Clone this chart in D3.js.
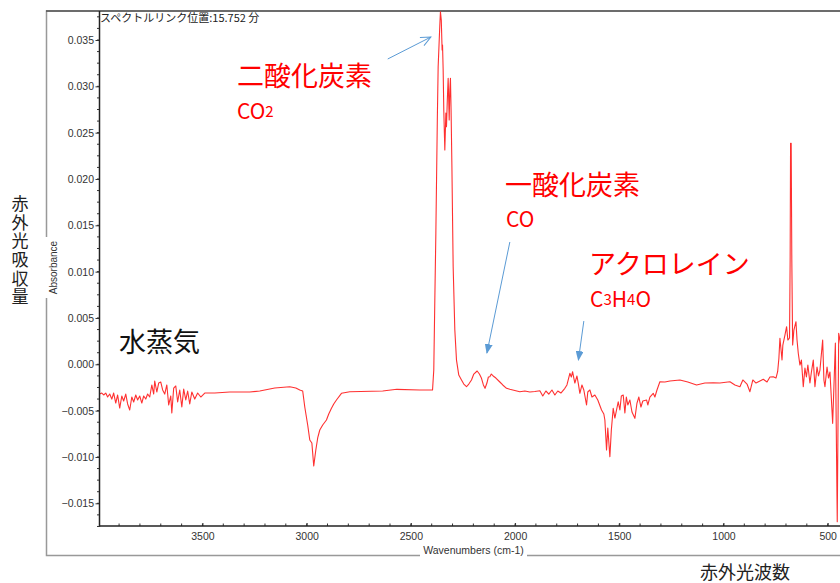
<!DOCTYPE html>
<html><head><meta charset="utf-8">
<script src="https://cdn.jsdelivr.net/npm/d3@7"></script>
<style>body{margin:0;background:#fff}svg{display:block}</style>
</head><body>
<svg id="c" width="840" height="583"></svg>
<script>
// ---- data (wavenumber in cm-1, absorbance) ----
const wavenumber = [3993,3983,3974,3964,3955,3945,3935,3926,3916,3907,3897,3887,3878,3868,3859,3849,3839,3830,3820,3811,3801,3791,3782,3772,3763,3753,3743,3734,3729,3719,3710,3700,3691,3681,3671,3662,3652,3647,3638,3628,3619,3609,3599,3590,3580,3571,3561,3551,3537,3523,3508,3489,3441,3369,3273,3225,3153,3081,3052,3033,3019,3009,2995,2985,2975,2966,2956,2947,2937,2923,2905,2894,2881,2870,2857,2833,2793,2635,2567,2457,2396,2390,2385,2380,2373,2369,2361,2358,2354,2350,2348,2345,2342,2337,2332,2329,2325,2321,2316,2313,2310,2307,2303,2297,2289,2281,2270,2257,2246,2233,2222,2209,2198,2182,2171,2161,2152,2144,2135,2128,2121,2114,2105,2092,2073,2059,2041,2025,2001,1977,1953,1929,1905,1881,1867,1852,1838,1823,1809,1795,1780,1761,1751,1737,1730,1724,1718,1713,1703,1696,1689,1679,1670,1657,1651,1641,1631,1617,1603,1585,1574,1569,1561,1555,1545,1538,1529,1521,1505,1497,1490,1481,1473,1466,1459,1449,1439,1425,1415,1406,1396,1387,1369,1363,1353,1337,1329,1319,1305,1281,1257,1209,1171,1129,1089,1049,1017,969,945,921,907,887,873,859,844,825,809,791,777,761,748,740,734,729,719,715,705,697,691,683,680,678,675,672,668,662,652,647,641,633,626,617,609,602,595,585,578,569,561,551,544,537,524,518,513,503,496,489,476,470,463,454,447,441,427];
const absorbance = [-0.00321,-0.00310,-0.00331,-0.00310,-0.00353,-0.00321,-0.00375,-0.00310,-0.00418,-0.00331,-0.00472,-0.00342,-0.00396,-0.00321,-0.00428,-0.00493,-0.00353,-0.00407,-0.00331,-0.00385,-0.00342,-0.00418,-0.00342,-0.00375,-0.00321,-0.00353,-0.00223,-0.00321,-0.00180,-0.00299,-0.00202,-0.00191,-0.00277,-0.00321,-0.00223,-0.00439,-0.00342,-0.00526,-0.00256,-0.00234,-0.00407,-0.00277,-0.00461,-0.00267,-0.00385,-0.00288,-0.00428,-0.00299,-0.00375,-0.00310,-0.00353,-0.00310,-0.00310,-0.00299,-0.00299,-0.00288,-0.00256,-0.00242,-0.00256,-0.00277,-0.00288,-0.00461,-0.00655,-0.00817,-0.00849,-0.01098,-0.00925,-0.00795,-0.00709,-0.00655,-0.00601,-0.00536,-0.00475,-0.00428,-0.00385,-0.00313,-0.00296,-0.00288,-0.00270,-0.00277,-0.00277,-0.00062,0.00694,0.01417,0.02637,0.03212,0.03662,0.03805,0.03716,0.03392,0.03446,0.03176,0.02744,0.02313,0.02712,0.02564,0.02852,0.03087,0.02637,0.02960,0.03087,0.02744,0.02133,0.01053,0.00370,0.00046,-0.00116,-0.00169,-0.00213,-0.00242,-0.00213,-0.00169,-0.00105,-0.00072,-0.00105,-0.00151,-0.00223,-0.00259,-0.00202,-0.00137,-0.00134,-0.00105,-0.00126,-0.00148,-0.00191,-0.00223,-0.00259,-0.00270,-0.00283,-0.00296,-0.00288,-0.00299,-0.00293,-0.00285,-0.00342,-0.00288,-0.00321,-0.00277,-0.00331,-0.00288,-0.00310,-0.00259,-0.00223,-0.00097,-0.00137,-0.00080,-0.00148,-0.00202,-0.00126,-0.00213,-0.00313,-0.00223,-0.00277,-0.00439,-0.00299,-0.00277,-0.00353,-0.00331,-0.00385,-0.00493,-0.00536,-0.00601,-0.00925,-0.00688,-0.00997,-0.00709,-0.00475,-0.00580,-0.00404,-0.00493,-0.00342,-0.00331,-0.00526,-0.00353,-0.00439,-0.00385,-0.00515,-0.00583,-0.00418,-0.00353,-0.00461,-0.00396,-0.00385,-0.00439,-0.00353,-0.00313,-0.00353,-0.00277,-0.00188,-0.00191,-0.00180,-0.00169,-0.00191,-0.00223,-0.00202,-0.00199,-0.00202,-0.00188,-0.00223,-0.00242,-0.00169,-0.00213,-0.00296,-0.00169,-0.00202,-0.00180,-0.00162,-0.00191,-0.00137,-0.00134,-0.00148,-0.00080,0.00065,0.00281,0.00046,0.00208,0.00316,0.00406,0.00262,0.00284,0.01126,0.02385,0.02385,0.01126,0.00208,0.00370,0.00460,0.00262,0.00119,-0.00008,0.00046,-0.00242,-0.00040,-0.00137,-0.00008,-0.00202,-0.00083,0.00046,-0.00242,-0.00029,-0.00126,-0.00062,0.00262,-0.00169,-0.00242,-0.00029,-0.00148,-0.00083,-0.00637,-0.00245,0.00230,-0.01699,0.00335,0.00262,0.00046];
const xTickValues = [3500,3000,2500,2000,1500,1000,500];
const yTickValues = [-0.015,-0.010,-0.005,0.000,0.005,0.010,0.015,0.020,0.025,0.030,0.035];
const xDomain = [3994, 400];
const yDomain = [-0.01745, 0.03813];
// arrows: [fromWn, fromAbs, toWn, toAbs]
const arrowFrom = [[2611, 0.03295], [2025, 0.01320], [1670, 0.00467]];
const arrowTo   = [[2404, 0.03532], [2135, 0.00122], [1696, 0.00046]];

// ---- layout ----
const svg = d3.select("#c");
const L = 99.5, R = 848.5, T = 11, B = 526;
const x = d3.scaleLinear().domain(xDomain).range([L, R]);
const y = d3.scaleLinear().domain(yDomain).range([B, T]);
const numFont = "'Liberation Sans', Arial, sans-serif";
const jpFont = "'Noto Sans CJK JP', 'Noto Sans', sans-serif";

// outer gray frame
svg.append("path").attr("d", `M900,${T}H46.5V555.5H900`).attr("fill","none").attr("stroke","#999").attr("stroke-width",1.5);
svg.append("line").attr("x1",46).attr("x2",840).attr("y1",T).attr("y2",T).attr("stroke","#555").attr("stroke-width",1.5);

// clip
svg.append("clipPath").attr("id","clip").append("rect").attr("x",L).attr("y",T).attr("width",R-L).attr("height",B-T);

// spectrum
const pts = wavenumber.map((w,i)=>[w, absorbance[i]]);
svg.append("path").datum(pts)
  .attr("clip-path","url(#clip)")
  .attr("fill","none").attr("stroke","#ff1a1a").attr("stroke-width",1.1).attr("stroke-opacity",0.9)
  .attr("stroke-linejoin","round")
  .attr("d", d3.line().x(d=>x(d[0])).y(d=>y(d[1])));

// y axis
const yAx = svg.append("g").attr("transform",`translate(${L},0)`)
  .call(d3.axisLeft(y).tickValues(yTickValues).tickSize(4).tickPadding(1.5).tickFormat(d3.format(".3f")));
yAx.select(".domain").remove();
yAx.selectAll("line").attr("stroke","#333");
yAx.selectAll("text").attr("font-family",numFont).attr("font-size",10.5).attr("fill","#333");
const yMinor = d3.range(-0.0175, 0.0376, 0.00125);
svg.append("g").selectAll("line").data(yMinor).join("line")
  .attr("x1",L-2.5).attr("x2",L).attr("y1",d=>y(d)).attr("y2",d=>y(d)).attr("stroke","#333");

// x axis
const xAx = svg.append("g").attr("transform",`translate(0,${B})`)
  .call(d3.axisBottom(x).tickValues(xTickValues).tickSize(-3).tickPadding(7).tickFormat(d3.format("d")));
xAx.select(".domain").remove();
xAx.selectAll("line").attr("stroke","#333");
xAx.selectAll("text").attr("font-family",numFont).attr("font-size",10.5).attr("fill","#333");
const xMinor = d3.range(400, 4000, 100);
svg.append("g").selectAll("line").data(xMinor).join("line")
  .attr("y1",B-2.5).attr("y2",B).attr("x1",d=>x(d)).attr("x2",d=>x(d)).attr("stroke","#333");

// axis lines
svg.append("line").attr("x1",L).attr("x2",L).attr("y1",T).attr("y2",B+0.75).attr("stroke","#222").attr("stroke-width",1.5);
svg.append("line").attr("x1",L).attr("x2",840).attr("y1",B).attr("y2",B).attr("stroke","#222").attr("stroke-width",1.5);

// axis titles (with white background over frame)
svg.append("rect").attr("x",44).attr("y",237).attr("width",14).attr("height",61).attr("fill","#fff");
svg.append("text").attr("transform","translate(56.5,267.5) rotate(-90)").attr("text-anchor","middle")
  .attr("font-family",numFont).attr("font-size",10).attr("fill","#333").text("Absorbance");
svg.append("rect").attr("x",420).attr("y",545).attr("width",107).attr("height",12).attr("fill","#fff");
svg.append("text").attr("x",473.5).attr("y",553.5).attr("text-anchor","middle")
  .attr("font-family",numFont).attr("font-size",10.5).attr("fill","#333").text("Wavenumbers (cm-1)");

// header text
svg.append("text").attr("x",100).attr("y",22).attr("font-family",jpFont).attr("font-size",11).attr("fill","#222")
  .text("スペクトルリンク位置:15.752 分");

// Japanese axis labels
svg.append("text").attr("x",20).attr("y",251).attr("text-anchor","middle")
  .style("writing-mode","vertical-rl").style("text-orientation","upright").style("letter-spacing","1.6px")
  .attr("font-family",jpFont).attr("font-size",17).attr("fill","#222").text("赤外光吸収量");
svg.append("text").attr("x",745).attr("y",571).attr("text-anchor","middle").attr("dominant-baseline","central")
  .attr("font-family",jpFont).attr("font-size",18).attr("fill","#222").text("赤外光波数");

// annotations
function lbl(tx, ty, size, color, parts){
  const t = svg.append("text").attr("x",tx).attr("y",ty).attr("dominant-baseline","central")
    .attr("font-family",jpFont).attr("font-size",size).attr("fill",color);
  parts.forEach(p=>t.append("tspan").attr("font-size",p[1]?size*0.72:size).text(p[0]));
}
lbl(237, 74, 27, "#ff0000", [["二酸化炭素"]]);
lbl(237, 110, 21, "#ff0000", [["CO"],["2",1]]);
lbl(505, 183, 27, "#ff0000", [["一酸化炭素"]]);
lbl(506, 218, 21, "#ff0000", [["CO"]]);
lbl(589, 262, 27, "#ff0000", [["アクロレイン"]]);
lbl(590, 298, 21, "#ff0000", [["C"],["3",1],["H"],["4",1],["O"]]);
lbl(119, 340, 27, "#111", [["水蒸気"]]);

// arrows
const defs = svg.append("defs");
defs.append("marker").attr("id","open").attr("viewBox","0 0 12 10").attr("refX",11).attr("refY",5)
  .attr("markerWidth",12).attr("markerHeight",10).attr("markerUnits","userSpaceOnUse").attr("orient","auto")
  .append("path").attr("d","M1,0.5L11,5L1,9.5").attr("fill","none").attr("stroke","#5b9bd5").attr("stroke-width",1);
defs.append("marker").attr("id","fill").attr("viewBox","0 0 10 8").attr("refX",9).attr("refY",4)
  .attr("markerWidth",10).attr("markerHeight",8).attr("markerUnits","userSpaceOnUse").attr("orient","auto")
  .append("path").attr("d","M0,0L10,4L0,8Z").attr("fill","#5b9bd5");
arrowFrom.forEach((f,i)=>{
  const t = arrowTo[i];
  svg.append("line").attr("x1",x(f[0])).attr("y1",y(f[1])).attr("x2",x(t[0])).attr("y2",y(t[1]))
    .attr("stroke","#5b9bd5").attr("stroke-width",1)
    .attr("marker-end", i===0 ? "url(#open)" : "url(#fill)");
});
</script>
</body></html>
